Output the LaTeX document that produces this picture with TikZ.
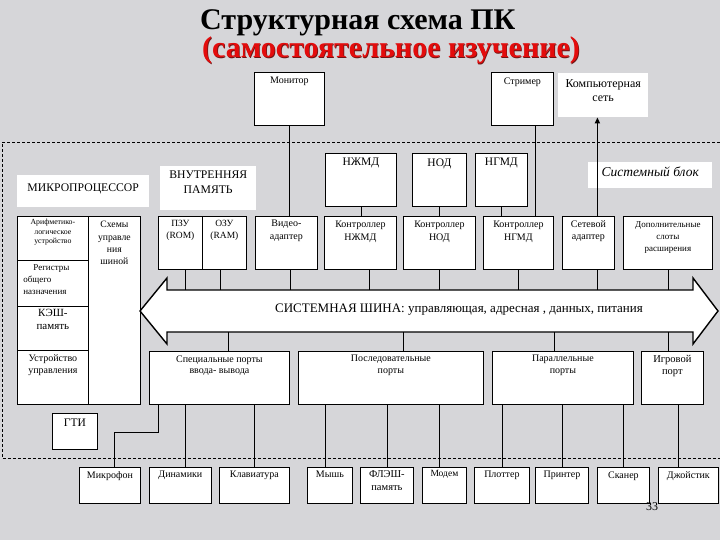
\documentclass[tikz,border=0pt]{standalone}
\usepackage{fontspec}
\setmainfont{Liberation Serif}
\usetikzlibrary{arrows.meta}
\definecolor{bgc}{RGB}{214,214,217}
\definecolor{titlered}{RGB}{228,12,12}
\definecolor{shadowred}{RGB}{110,20,20}
\tikzset{
  box/.style={draw, fill=white, line width=0.8pt, inner sep=0pt, anchor=north west, font=\fontsize{9.5}{12}\selectfont},
  plainbox/.style={fill=white, inner sep=0pt, anchor=north west, font=\fontsize{12}{14}\selectfont},
  conn/.style={line width=0.8pt},
  sysdash/.style={line width=0.7pt, dash pattern=on 3pt off 2pt},
  titlefont/.style={anchor=base west, inner sep=0pt, font=\fontsize{30}{32}\selectfont\bfseries},
}
\newcommand\bx[7][4pt]{\node[box] (#2) at (#3,#4) {\parbox[t][#6pt][t]{#5pt}{\centering\vspace*{#1}#7\par}};}
\newcommand\pbx[7][4pt]{\node[plainbox] (#2) at (#3,#4) {\parbox[t][#6pt][t]{#5pt}{\centering\vspace*{#1}#7\par}};}
\begin{document}
\begin{tikzpicture}[x=1pt,y=-1pt]
\useasboundingbox (0,0) rectangle (720,540);
\fill[bgc] (0,0) rectangle (720,540);

% title
\node[titlefont] (t1) at (200,30) {Структурная схема ПК};
\node[titlefont, text=shadowred] (t2s) at (202.7,58.7) {(самостоятельное изучение)};
\node[titlefont, text=titlered] (t2) at (202,58) {(самостоятельное изучение)};

% system block boundary
\draw[sysdash] (720,142) -- (2,142) -- (2,458) -- (720,458);

% top peripherals
\bx[5pt]{mon}{254}{72}{70}{53}{\fontsize{10}{12}\selectfont Монитор}
\bx[5pt]{str}{491}{72}{62}{53}{\fontsize{10}{12}\selectfont Стример}
\pbx[6pt]{net}{558}{73}{90}{44}{Компьютерная\\сеть}
\node[plainbox, font=\fontsize{13.5}{15}\selectfont\itshape] (sysb) at (588,162) {\parbox[t][26pt][t]{124pt}{\centering\vspace*{5pt}Системный блок\par}};

% drives
\bx[5pt]{hdd}{325}{153}{71}{53}{\fontsize{11.5}{13}\selectfont НЖМД}
\bx[5pt]{cd}{412}{153}{54}{53}{\fontsize{11.5}{13}\selectfont НОД}
\bx[5pt]{fdd}{475}{153}{52}{53}{\fontsize{11.5}{13}\selectfont НГМД}

% labels
\pbx[9pt]{mpl}{17}{175}{132}{32}{\fontsize{11.7}{14}\selectfont МИКРОПРОЦЕССОР}
\pbx[5pt]{meml}{160}{166}{96}{44}{\fontsize{11.7}{15}\selectfont ВНУТРЕННЯЯ\\ПАМЯТЬ}

% microprocessor
\bx[3pt]{alu}{17}{216}{71}{44}{\fontsize{7.8}{9.5}\selectfont Арифметико-\\логическое\\устройство}
\bx[4pt]{reg}{17}{260}{71}{46}{\fontsize{9}{12}\selectfont\raggedright\leftskip=6pt\hspace*{10pt}Регистры\\общего\\назначения}
\bx[3pt]{cache}{17}{306}{71}{44}{\fontsize{11}{13}\selectfont КЭШ-\\память}
\bx[4pt]{cu}{17}{350}{71}{54}{\fontsize{10}{12}\selectfont Устройство\\управления}
\bx[5pt]{bctl}{88}{216}{52}{188}{\fontsize{9.7}{12.2}\selectfont Схемы\\управле\\ния\\шиной}

% memory
\bx[4pt]{rom}{158}{216}{44}{53}{\fontsize{9.5}{12}\selectfont ПЗУ\\(ROM)}
\bx[4pt]{ram}{202}{216}{44}{53}{\fontsize{9.5}{12}\selectfont ОЗУ\\(RAM)}

% controllers
\bx[4pt]{vid}{255}{216}{62}{53}{\fontsize{10}{12.5}\selectfont Видео-\\адаптер}
\bx[5pt]{chdd}{324}{216}{72}{53}{\fontsize{10}{12.5}\selectfont Контроллер\\НЖМД}
\bx[5pt]{ccd}{403}{216}{72}{53}{\fontsize{10}{12.5}\selectfont Контроллер\\НОД}
\bx[5pt]{cfdd}{483}{216}{70}{53}{\fontsize{10}{12.5}\selectfont Контроллер\\НГМД}
\bx[4pt]{nic}{562}{216}{52}{53}{\fontsize{10}{12.5}\selectfont Сетевой\\адаптер}
\bx[5pt]{slots}{623}{216}{89}{53}{\fontsize{9}{12}\selectfont Дополнительные\\слоты\\расширения}

% system bus
\draw[line width=1.4pt, fill=white] (140,311) -- (167,278) -- (167,290) -- (693,290) -- (693,278) -- (718,311) -- (693,344) -- (693,332) -- (167,332) -- (167,344) -- cycle;
\node[font=\fontsize{13}{15}\selectfont] (bus) at (459,310) {СИСТЕМНАЯ ШИНА: управляющая, адресная , данных, питания};
\coordinate (bt) at (0,290);
\coordinate (bb) at (0,332);

% ports
\bx[4pt]{sp}{149}{351}{140}{53}{\fontsize{10}{11.5}\selectfont Специальные порты\\ввода- вывода}
\bx[4pt]{ser}{298}{351}{185}{53}{\fontsize{10}{11.5}\selectfont Последовательные\\порты}
\bx[4pt]{par}{492}{351}{141}{53}{\fontsize{10}{11.5}\selectfont Параллельные\\порты}
\bx[4pt]{game}{641}{351}{62}{53}{\fontsize{10.5}{11.5}\selectfont Игровой\\порт}
\bx[6pt]{gti}{52}{413}{45}{36}{\fontsize{11.5}{13}\selectfont ГТИ}

% external devices
\bx[4pt]{mic}{79}{467}{61}{36}{\fontsize{10}{12}\selectfont Микрофон}
\bx[4pt]{spk}{149}{467}{62}{36}{\fontsize{10}{12}\selectfont Динамики}
\bx[4pt]{kbd}{219}{467}{70}{36}{\fontsize{10}{12}\selectfont Клавиатура}
\bx[4pt]{mouse}{307}{467}{45}{36}{\fontsize{10}{12}\selectfont Мышь}
\bx[3pt]{flash}{360}{467}{53}{36}{\fontsize{10.5}{13}\selectfont ФЛЭШ-\\память}
\bx[3pt]{modem}{422}{467}{44}{36}{\fontsize{9.5}{12}\selectfont Модем}
\bx[4pt]{plot}{474}{467}{55}{36}{\fontsize{10}{12}\selectfont Плоттер}
\bx[4pt]{prn}{535}{467}{53}{36}{\fontsize{10}{12}\selectfont Принтер}
\bx[4pt]{scan}{597}{467}{52}{36}{\fontsize{10}{12}\selectfont Сканер}
\bx[4pt]{joy}{658}{467}{60}{36}{\fontsize{10}{12}\selectfont Джойстик}

\node[font=\fontsize{12}{14}\selectfont, inner sep=0pt] (pg) at (652,507) {33};

% connectors: peripherals and drives
\draw[conn] (mon.south) -- (mon.south |- vid.north);
\draw[conn] ([xshift=13pt]str.south) -- ([xshift=13pt]str.south |- cfdd.north);
\draw[conn] (hdd.south) -- (hdd.south |- chdd.north);
\draw[conn] (cd.south) -- (cd.south |- ccd.north);
\draw[conn] (fdd.south) -- (fdd.south |- cfdd.north);
\draw[line width=1.6pt, -{Triangle[length=6pt,width=5pt]}] ([xshift=9pt]nic.north) -- ([xshift=9pt]nic.north |- net.south);

% connectors to bus (above)
\draw[conn] ([xshift=5pt]rom.south) -- ([xshift=5pt]rom.south |- bt);
\draw[conn] ([xshift=-4pt]ram.south) -- ([xshift=-4pt]ram.south |- bt);
\draw[conn] ([xshift=4pt]vid.south) -- ([xshift=4pt]vid.south |- bt);
\draw[conn] ([xshift=9pt]chdd.south) -- ([xshift=9pt]chdd.south |- bt);
\draw[conn] (ccd.south) -- (ccd.south |- bt);
\draw[conn] (cfdd.south) -- (cfdd.south |- bt);
\draw[conn] ([xshift=9pt]nic.south) -- ([xshift=9pt]nic.south |- bt);
\draw[conn] (slots.south) -- (slots.south |- bt);

% connectors from bus (below)
\draw[conn] ([xshift=9pt]sp.north) -- ([xshift=9pt]sp.north |- bb);
\draw[conn] ([xshift=12.5pt]ser.north) -- ([xshift=12.5pt]ser.north |- bb);
\draw[conn] ([xshift=-8.5pt]par.north) -- ([xshift=-8.5pt]par.north |- bb);
\draw[conn] ([xshift=-4pt]game.north) -- ([xshift=-4pt]game.north |- bb);

% ports to devices
\draw[conn] ([xshift=9pt]sp.south west) -- ++(0,28) -| ([xshift=4.5pt]mic.north);
\draw[conn] ([xshift=5pt]spk.north) -- ([xshift=5pt]spk.north |- sp.south);
\draw[conn] (kbd.north) -- (kbd.north |- sp.south);
\draw[conn] ([xshift=-4.5pt]mouse.north) -- ([xshift=-4.5pt]mouse.north |- ser.south);
\draw[conn] (flash.north) -- (flash.north |- ser.south);
\draw[conn] ([xshift=-5pt]modem.north) -- ([xshift=-5pt]modem.north |- ser.south);
\draw[conn] (plot.north) -- (plot.north |- par.south);
\draw[conn] (prn.north) -- (prn.north |- par.south);
\draw[conn] (scan.north) -- (scan.north |- par.south);
\draw[conn] ([xshift=-10pt]joy.north) -- ([xshift=-10pt]joy.north |- game.south);
\end{tikzpicture}
\end{document}
